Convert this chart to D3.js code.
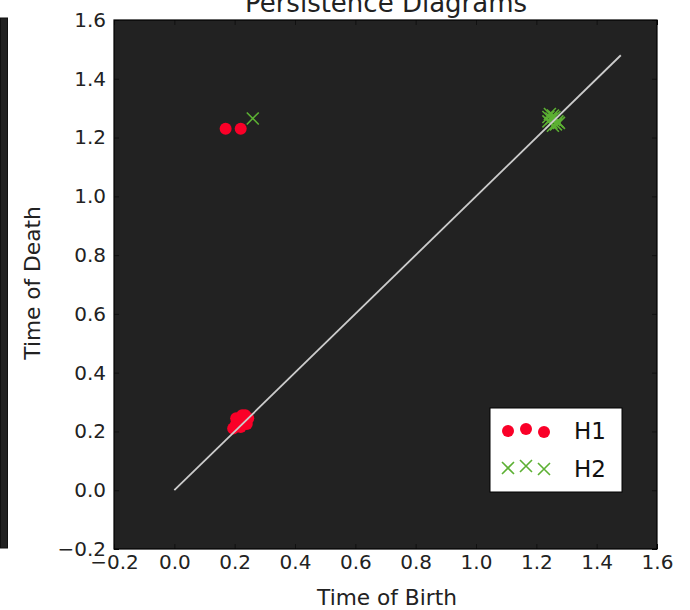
<!DOCTYPE html>
<html lang="en">
<head>
<meta charset="UTF-8">
<title>Persistence Diagrams</title>
<style>
  body, html { margin: 0; padding: 0; background: #fff; overflow: hidden; }
  svg { display: block; font-family: "DejaVu Sans", sans-serif; }
  .axis text { font-family: "DejaVu Sans", sans-serif; font-size: 20px; fill: #222; }
  .axis path { display: none; }
  .axis line { stroke: #111; }
</style>
</head>
<body>
<svg width="690" height="610"></svg>
<script src="https://d3js.org/d3.v7.min.js"></script>
<script>
// H1 points (birth, death)
const h1Birth = [0.17, 0.22, 0.20, 0.205, 0.21, 0.215, 0.22, 0.225, 0.23, 0.235, 0.24, 0.225, 0.215, 0.235, 0.22, 0.205, 0.245, 0.24, 0.225, 0.235, 0.195];
const h1Death = [1.23, 1.23, 0.215, 0.225, 0.23, 0.235, 0.24, 0.245, 0.25, 0.245, 0.24, 0.225, 0.22, 0.235, 0.215, 0.245, 0.245, 0.225, 0.255, 0.255, 0.21];
// H2 points (birth, death)
const h2Birth = [0.26, 1.24, 1.245, 1.255, 1.26, 1.25, 1.265, 1.27, 1.24, 1.255, 1.275, 1.26, 1.25];
const h2Death = [1.265, 1.27, 1.28, 1.275, 1.26, 1.25, 1.245, 1.255, 1.255, 1.24, 1.25, 1.27, 1.265];
const tickValues = [-0.2, 0.0, 0.2, 0.4, 0.6, 0.8, 1.0, 1.2, 1.4, 1.6];
const diagMax = 1.48;

const svg = d3.select("svg");
const mLeft = 114, mRight = 657, mTop = 20, mBottom = 549;

const x = d3.scaleLinear().domain([-0.2, 1.6]).range([mLeft, mRight]);
const y = d3.scaleLinear().domain([-0.2, 1.6]).range([mBottom, mTop]);

// stray dark bar on the left edge
svg.append("rect").attr("x", 0.5).attr("y", 18).attr("width", 7).attr("height", 530)
  .attr("fill", "#222").attr("stroke", "#111");

// plot background
svg.append("rect").attr("x", mLeft).attr("y", mTop)
  .attr("width", mRight - mLeft).attr("height", mBottom - mTop)
  .attr("fill", "#222");

// title (clipped at the top of the page, as in the source)
svg.append("text").attr("x", 386).attr("y", 12)
  .attr("text-anchor", "middle").attr("font-size", 26).attr("fill", "#222")
  .text("Persistence Diagrams");

const fmt = d => d < 0 ? "\u2212" + Math.abs(d).toFixed(1) : d.toFixed(1);

svg.append("g").attr("class", "axis").attr("transform", `translate(0,${mBottom})`)
  .call(d3.axisBottom(x).tickValues(tickValues).tickFormat(fmt).tickSizeInner(-5).tickPadding(6));
svg.append("g").attr("class", "axis").attr("transform", `translate(0,${mTop})`)
  .call(d3.axisTop(x).tickValues(tickValues).tickFormat("").tickSizeInner(-5));
svg.append("g").attr("class", "axis").attr("transform", `translate(${mLeft},0)`)
  .call(d3.axisLeft(y).tickValues(tickValues).tickFormat(fmt).tickSizeInner(-5).tickPadding(8));
svg.append("g").attr("class", "axis").attr("transform", `translate(${mRight},0)`)
  .call(d3.axisRight(y).tickValues(tickValues).tickFormat("").tickSizeInner(-5));

// frame
svg.append("rect").attr("x", mLeft).attr("y", mTop)
  .attr("width", mRight - mLeft).attr("height", mBottom - mTop)
  .attr("fill", "none").attr("stroke", "#000").attr("stroke-width", 1.2);

// axis labels
svg.append("text").attr("x", 387).attr("y", 605)
  .attr("text-anchor", "middle").attr("font-size", 21.7).attr("fill", "#222").text("Time of Birth");
svg.append("text").attr("transform", "translate(40,283) rotate(-90)")
  .attr("text-anchor", "middle").attr("font-size", 21.7).attr("fill", "#222").text("Time of Death");

const red = "#fa0028", green = "#5cb033";

// H1 circles
svg.append("g").selectAll("circle").data(d3.range(h1Birth.length)).join("circle")
  .attr("cx", i => x(h1Birth[i])).attr("cy", i => y(h1Death[i])).attr("r", 6)
  .attr("fill", red);

// H2 crosses
const cross = (cx, cy, s) => `M${cx - s},${cy - s}L${cx + s},${cy + s}M${cx - s},${cy + s}L${cx + s},${cy - s}`;
svg.append("g").selectAll("path").data(d3.range(h2Birth.length)).join("path")
  .attr("d", i => cross(x(h2Birth[i]), y(h2Death[i]), 6))
  .attr("stroke", green).attr("stroke-width", 1.6).attr("fill", "none");

// diagonal
svg.append("line").attr("x1", x(0)).attr("y1", y(0)).attr("x2", x(diagMax)).attr("y2", y(diagMax))
  .attr("stroke", "#ccc").attr("stroke-width", 1.8);

// legend
const lg = svg.append("g").attr("transform", "translate(490,408)");
lg.append("rect").attr("width", 132).attr("height", 84).attr("fill", "#fff").attr("stroke", "#000");
const offs = [[18, 0], [36, -2], [54, 1]];
offs.forEach(([dx, dy]) => {
  lg.append("circle").attr("cx", dx).attr("cy", 23 + dy).attr("r", 6).attr("fill", red);
  lg.append("path").attr("d", cross(dx, 60 + dy, 6)).attr("stroke", green).attr("stroke-width", 1.6).attr("fill", "none");
});
lg.append("text").attr("x", 84).attr("y", 31).attr("font-size", 23).attr("fill", "#111").text("H1");
lg.append("text").attr("x", 84).attr("y", 69).attr("font-size", 23).attr("fill", "#111").text("H2");
</script>
</body>
</html>
